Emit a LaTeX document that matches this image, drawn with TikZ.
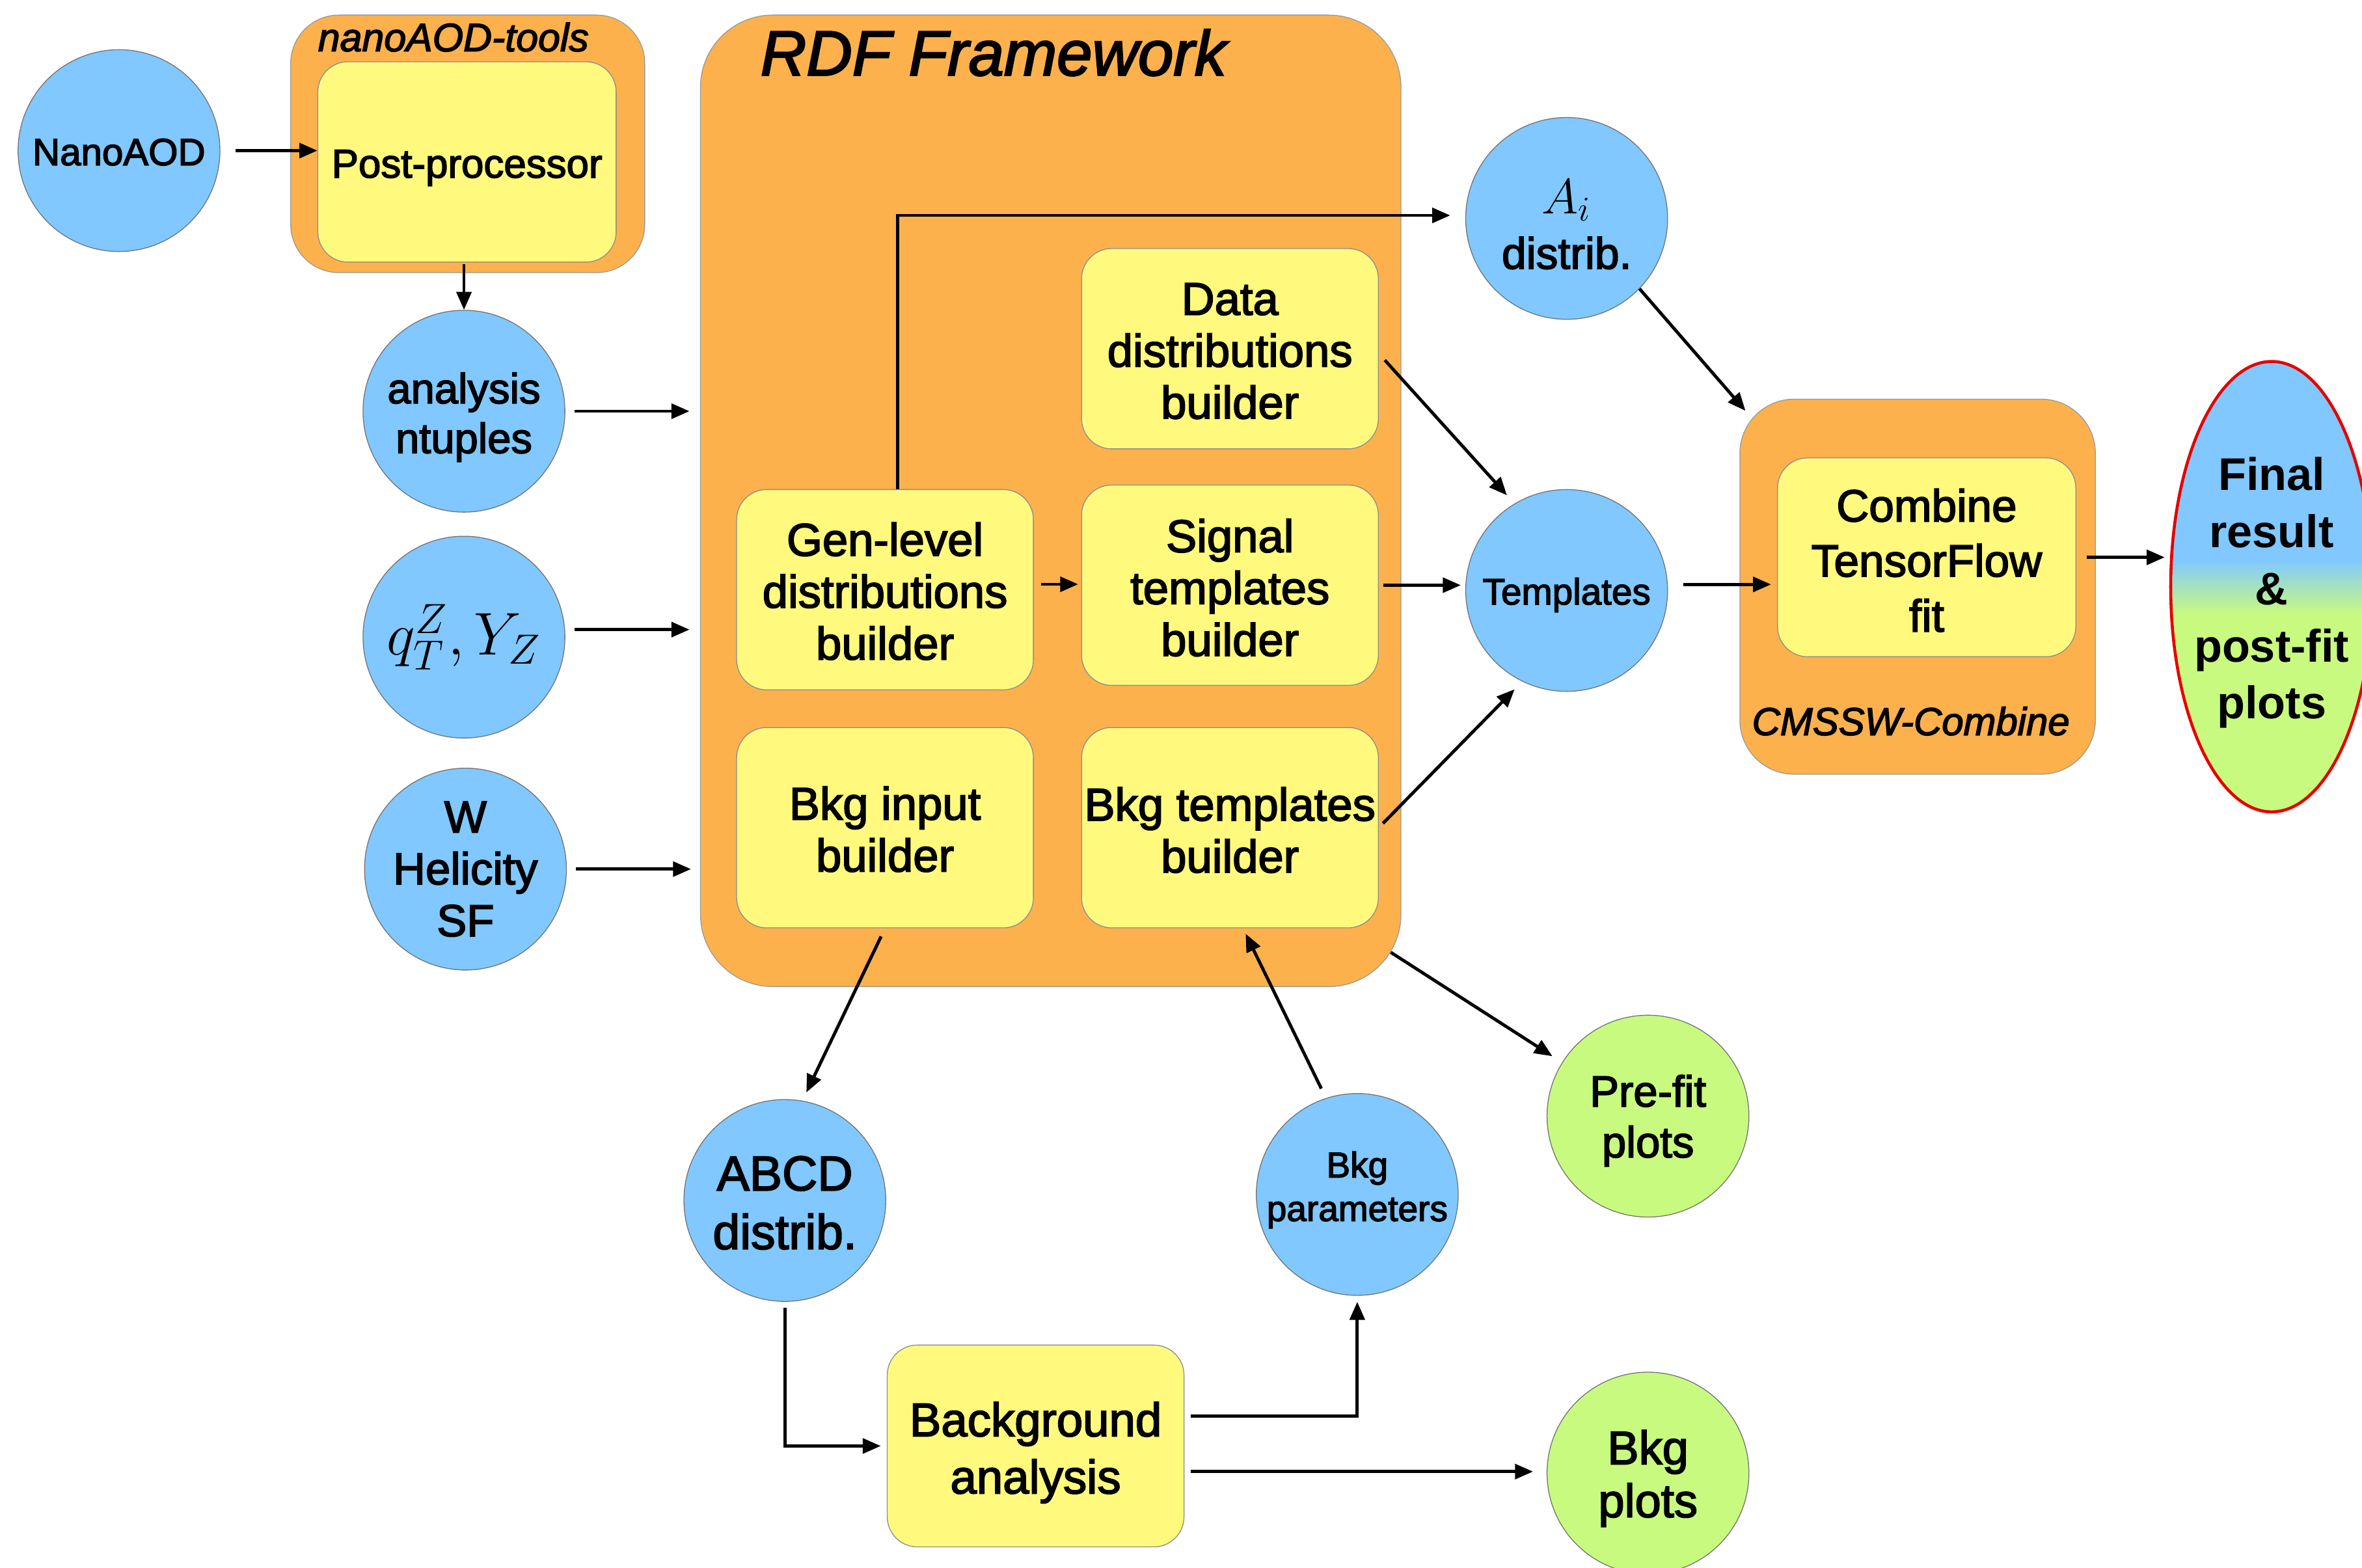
\RequirePackage{fix-cm}
\documentclass[tikz,border=0pt]{standalone}
\usepackage{fontspec}
\setmainfont[FakeBold=2.5]{Liberation Sans}
\newfontfamily\plainsans{Liberation Sans}
\usetikzlibrary{arrows.meta,shapes.geometric,calc}

\definecolor{cblue}{RGB}{128,200,255}
\definecolor{cgreen}{RGB}{200,250,128}
\definecolor{corange}{RGB}{252,177,77}
\definecolor{cyel}{RGB}{255,250,125}

% blue on top, green at the bottom, short blend around the middle
\pgfdeclareverticalshading{resultfade}{100bp}{color(0bp)=(cgreen); color(47bp)=(cgreen); color(53bp)=(cblue); color(100bp)=(cblue)}

\newcommand\fsz[2]{\fontsize{#1}{#2}\selectfont}

\begin{document}
\begin{tikzpicture}[x=0.25mm, y=-0.25mm,
  arr/.style={-{Triangle[length=8.5pt,width=7pt]}, line width=1.5pt},
  blob/.style={circle, fill=cblue, draw=black!55, line width=0.4pt,
    minimum size=33.5mm, inner sep=0pt},
  gblob/.style={blob, fill=cgreen},
  ybox/.style={rectangle, rounded corners=5mm, fill=cyel, draw=black!45,
    line width=0.4pt, minimum width=49.25mm, minimum height=33.25mm, inner sep=0pt},
  obox/.style={rectangle, fill=corange, draw=black!40, line width=0.4pt, inner sep=0pt},
  txt/.style={inner sep=0pt, align=center, font=\fsz{21.7}{24.5}},
  grouplabel/.style={anchor=base, inner sep=0pt}]

\useasboundingbox (0,0) rectangle (1568,1041);

% ---- nanoAOD-tools group
\node[obox, rounded corners=8mm, minimum width=58.75mm, minimum height=42.75mm] (tools) at (310.5,95.5) {};
\node[ybox, minimum width=49.5mm] (post) at (310,107.5) {};
\node[txt, font=\fsz{19}{22}] (postt) at ([yshift=-1mm]post.center) {Post-processor};
\node[grouplabel, font=\itshape\fsz{18.7}{20}] (toolslab) at (301,34) {nanoAOD-tools};

% ---- RDF framework group
\node[obox, rounded corners=12mm, minimum width=116.25mm, minimum height=161.25mm] (rdf) at (697.5,332.5) {};
\node[grouplabel, font=\itshape\fsz{30}{34}] (rdflab) at (659.5,50) {RDF Framework};
\node[ybox] (data) at (816.5,231.5) {};
\node[ybox] (gen) at (587.5,391.5) {};
\node[ybox] (sig) at (816.5,388.5) {};
\node[ybox] (bkgin) at (587.5,549.5) {};
\node[ybox] (bkgtpl) at (816.5,549.5) {};
\node[txt] (datat) at ([yshift=-0.4mm]data.center) {Data\\distributions\\builder};
\node[txt] (gent) at ([yshift=-0.25mm]gen.center) {Gen-level\\distributions\\builder};
\node[txt] (sigt) at ([yshift=-0.4mm]sig.center) {Signal\\templates\\builder};
\node[txt] (bkgint) at ([yshift=-0.25mm]bkgin.center) {Bkg input\\builder};
\node[txt] (bkgtplt) at ([yshift=-0.4mm]bkgtpl.center) {Bkg templates\\builder};

% ---- background analysis
\node[ybox, minimum height=33.5mm] (bga) at (687.5,960) {};
\node[txt, font=\fsz{22.3}{27}] (bgat) at ([yshift=-1.1mm]bga.center) {Background\\analysis};

% ---- CMSSW-Combine group
\node[obox, rounded corners=9mm, minimum width=59mm, minimum height=62.25mm] (cmssw) at (1273,389.5) {};
\node[ybox, minimum width=49.5mm, minimum height=33mm] (comb) at (1279,370) {};
\node[txt, font=\fsz{21.3}{26}] (combt) at ([yshift=-0.5mm]comb.center) {Combine\\TensorFlow\\fit};
\node[grouplabel, font=\itshape\fsz{18.4}{20}] (cmslab) at (1268.5,488) {CMSSW-Combine};

% ---- data products
\node[blob] (nano) at (79,100) {};
\node[blob] (ana) at (308,273) {};
\node[blob] (qt) at (308,423) {};
\node[blob] (whel) at (309,577) {};
\node[blob] (ai) at (1040,145) {};
\node[blob] (tmpl) at (1040,392) {};
\node[gblob] (prefit) at (1094,741) {};
\node[gblob] (bplots) at (1094,978) {};
\node[blob] (abcd) at (521,797) {};
\node[blob] (bpar) at (901,793) {};
\node[ellipse, draw=red!90!black, line width=1.4pt, shading=resultfade,
  minimum width=33.5mm, minimum height=74.75mm, inner sep=0pt] (final) at (1508,389.5) {};

\node[txt, font=\fsz{17.9}{20}] (nanot) at ([yshift=-0.25mm]nano.center) {NanoAOD};
\node[txt, font=\fsz{20}{23.5}] (anat) at ([yshift=-1mm]ana.center) {analysis\\ntuples};
\node[txt, font=\fsz{28.5}{30}] (qtt) at (qt.center) {$q_T^Z, Y_Z$};
\node[txt, font=\fsz{21.2}{24.5}] (whelt) at (whel.center) {W\\Helicity\\SF};
\node[txt, font=\fsz{20.8}{26}] (ait) at ([yshift=-1mm]ai.center) {{\fsz{23.5}{26}$A_i$}\\distrib.};
\node[txt, font=\fsz{17.4}{20}] (tmplt) at ([yshift=-0.75mm]tmpl.center) {Templates};
\node[txt, font=\fsz{20.6}{24}] (prefitt) at ([yshift=-0.75mm]prefit.center) {Pre-fit\\plots};
\node[txt, font=\fsz{22.2}{25}] (bplotst) at ([yshift=-0.9mm]bplots.center) {Bkg\\plots};
\node[txt, font=\fsz{23.1}{27.7}] (abcdt) at ([yshift=-0.4mm]abcd.center) {ABCD\\distrib.};
\node[txt, font=\fsz{16.9}{20.6}] (bpart) at ([yshift=0.75mm]bpar.center) {Bkg\\parameters};
\node[txt, font=\plainsans\bfseries\fsz{21.6}{27}] (finalt) at ([yshift=-1mm]final.center) {Final\\result\\\&\\post-fit\\plots};

% ---- connectors
\draw[arr, shorten <=2.5mm] (nano.east) -- (nano.east -| post.west);
\draw[arr, shorten <=0.25mm] (ana.north |- post.south) -- (ana.north);
\draw[arr, shorten <=1.5mm, shorten >=1.75mm] (ana.east) -- (ana.east -| rdf.west);
\coordinate (qtout) at ([yshift=1.25mm]qt.east);
\draw[arr, shorten <=1.5mm, shorten >=1.75mm] (qtout) -- (qtout -| rdf.west);
\draw[arr, shorten <=1.5mm, shorten >=1.5mm] (whel.east) -- (whel.east -| rdf.west);
\draw[arr, shorten >=2.5mm] ([xshift=2.1mm]gen.north) |- ([yshift=0.5mm]ai.west);
\coordinate (genout) at ([yshift=0.9mm]gen.east);
\draw[arr, shorten <=1.25mm, shorten >=0.5mm] (genout) -- (genout -| sig.west);
\draw[arr, shorten <=0.75mm, shorten >=0.75mm] (sig.east) -- (sig.east -| tmpl.west);
\draw[arr, shorten >=1.85mm] ([xshift=1mm,yshift=-1.9mm]data.east) -- (tmpl.121);
\draw[arr, shorten <=1mm, shorten >=1.8mm] (bkgtpl.east) -- (tmpl.244);
\draw[arr] (ai.-44) -- ([xshift=1mm,yshift=-2mm]cmssw.north west);
\coordinate (tout) at ([yshift=1mm]tmpl.east);
\draw[arr, shorten <=2.5mm, shorten >=1mm] (tout) -- (tout -| comb.west);
\draw[arr, shorten <=1.75mm, shorten >=0.75mm] (comb.east) -- (comb.east -| final.west);
\draw[arr, shorten <=1.5mm, shorten >=1.5mm] (bkgin.south) -- (abcd.80);
\draw[arr, shorten <=1.75mm] (bpar.108) -- ([xshift=2.6mm,yshift=-0.9mm]bkgtpl.south);
\draw[arr, shorten >=1.9mm] ([xshift=-1.75mm,yshift=5.75mm]rdf.south east) -- (prefit.148);
\draw[arr, shorten <=1mm, shorten >=1mm] (abcd.south) |- (bga.west);
\draw[arr, shorten <=1mm, shorten >=1mm] ([yshift=5mm]bga.east) -| (bpar.south);
\coordinate (bgout) at ([yshift=-4.25mm]bga.east);
\draw[arr, shorten <=1mm, shorten >=2.25mm] (bgout) -- (bgout -| bplots.west);

\end{tikzpicture}
\end{document}
